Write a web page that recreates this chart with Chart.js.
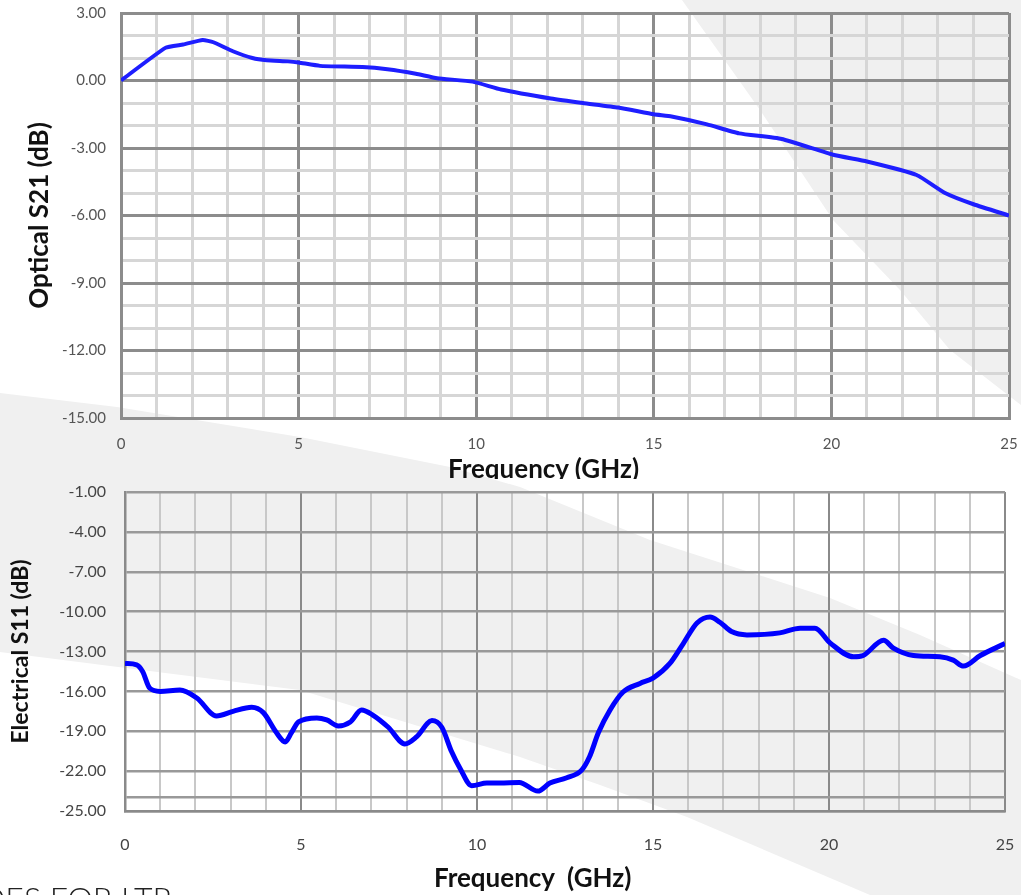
<!DOCTYPE html>
<html><head><meta charset="utf-8">
<script src="https://cdn.jsdelivr.net/npm/chart.js@4.4.1/dist/chart.umd.min.js"></script>
<style>
html,body{margin:0;padding:0;background:#fff;width:1021px;height:895px;overflow:hidden;position:relative;font-family:Lato,sans-serif}
#bg{position:absolute;left:0;top:0}
.box{position:absolute;left:0;width:1021px;overflow:hidden}
#c1box{top:0;height:479px}
#c2box{top:480px;height:415px}
.xt{position:absolute;font-family:Lato,sans-serif;font-weight:bold;font-size:26px;line-height:30px;color:#111;white-space:pre}
#foot{position:absolute;left:-19px;top:882px;font-family:Lato,sans-serif;font-weight:300;font-size:32px;line-height:32px;color:#222;white-space:pre}
canvas{position:absolute;left:0;top:0}
</style></head>
<body>
<svg id="bg" width="1021" height="895">
 <polygon fill="#f0f0f0" points="682,0 760,110 833,220 900,290 950,350 1021,405 1021,0"/>
 <polygon fill="#f0f0f0" points="0,393 117,407 300,437 450,467 520,487 650,540 830,598 920,635 1021,680 1021,895 870,895 687,817 600,785 520,757 300,690 0,652"/>
</svg>
<div class="box" id="c1box"><canvas id="c1" width="1021" height="479"></canvas>
<div class="xt" style="left:448px;top:453px">Frequency (GHz)</div></div>
<div class="box" id="c2box"><canvas id="c2" width="1021" height="415"></canvas></div>
<div class="xt" style="left:434px;top:862px">Frequency  (GHz)</div>
<div id="foot">DES FOR LTR</div>
<script>
// ---- Optical S21 (top chart) ----
const topFreq = [0, 1.25, 1.75, 2.3, 2.6, 3.15, 3.7, 4.1, 4.7, 5.0, 5.6, 6.8, 7.5, 8.3, 8.9, 9.9, 10.7, 12.1, 13.0, 14.0, 15.0, 15.5, 16.5, 17.4, 18.6, 20.05, 21.0, 22.4, 23.2, 24.0, 25.0];
const topVals = [0, 1.45, 1.6, 1.8, 1.7, 1.3, 1.0, 0.9, 0.85, 0.8, 0.65, 0.6, 0.5, 0.3, 0.1, -0.05, -0.4, -0.8, -1.0, -1.2, -1.5, -1.6, -1.95, -2.35, -2.6, -3.3, -3.6, -4.2, -5.0, -5.5, -6.0];
const topXTicks = [0,1,2,3,4,5,6,7,8,9,10,11,12,13,14,15,16,17,18,19,20,21,22,23,24,25];
const topXLabels = ['0','5','10','15','20','25'];
const topYTicks = [-15,-14,-13,-12,-11,-10,-9,-8,-7,-6,-5,-4,-3,-2,-1,0,1,2,3];
const topYLabels = ['-15.00','-12.00','-9.00','-6.00','-3.00','0.00','3.00'];

// ---- Electrical S11 (bottom chart) ----
const botFreq = [0, 0.33, 0.5, 0.7, 1.0, 1.56, 2.04, 2.6, 3.07, 3.6, 3.93, 4.3, 4.55, 4.73, 4.93, 5.45, 5.73, 6.06, 6.4, 6.72, 7.05, 7.48, 7.95, 8.29, 8.72, 9.0, 9.28, 9.52, 9.85, 10.28, 10.65, 11.2, 11.73, 12.07, 12.55, 12.98, 13.2, 13.45, 13.78, 14.15, 14.63, 15.0, 15.48, 15.86, 16.25, 16.62, 16.9, 17.23, 17.67, 18.6, 19.18, 19.6, 20.03, 20.7, 20.97, 21.55, 21.83, 22.4, 23.15, 23.53, 23.82, 24.3, 25.0];
const botVals = [-13.9, -14.0, -14.5, -15.75, -16.0, -15.9, -16.5, -17.85, -17.5, -17.2, -17.6, -19.1, -19.8, -19.1, -18.3, -18.0, -18.15, -18.6, -18.3, -17.4, -17.8, -18.7, -19.95, -19.4, -18.2, -18.7, -20.55, -21.8, -23.1, -22.9, -22.9, -22.85, -23.5, -22.9, -22.5, -21.9, -20.9, -19.1, -17.4, -16.05, -15.4, -15.0, -13.9, -12.4, -10.85, -10.4, -10.8, -11.5, -11.75, -11.6, -11.25, -11.25, -12.35, -13.4, -13.3, -12.15, -12.75, -13.3, -13.4, -13.65, -14.1, -13.3, -12.4];
const botXTicks = [0,1,2,3,4,5,6,7,8,9,10,11,12,13,14,15,16,17,18,19,20,21,22,23,24,25];
const botXLabels = ['0','5','10','15','20','25'];
const botYTicks = [-25,-24,-22,-19,-16,-13,-10,-7,-4,-1];
const botYLabels = ['-25.00','-22.00','-19.00','-16.00','-13.00','-10.00','-7.00','-4.00','-1.00'];

const fmtLabel = (labels, dec) => v => { const s = dec ? v.toFixed(2) : String(v); return labels.includes(s) ? s : ''; };
const noPad = s => { s.paddingLeft = 0; s.paddingRight = 0; s.paddingTop = 0; s.paddingBottom = 0; };

new Chart(document.getElementById('c1'), {
  type: 'line',
  data: { datasets: [{ data: topFreq.map((f,i)=>({x:f, y:topVals[i]})), borderColor:'#1e1eff', borderWidth:4, pointRadius:0, tension:0.15, fill:false }] },
  options: {
    responsive:false, animation:false, devicePixelRatio:1,
    layout:{ padding:{ top:13, right:12, left:0, bottom:0 } },
    plugins:{ legend:{display:false}, tooltip:{enabled:false} },
    scales:{
      x:{ type:'linear', min:0, max:25,
        afterFit: s => { s.height = 61; noPad(s); },
        afterBuildTicks: s => { s.ticks = topXTicks.map(v=>({value:v})); },
        ticks:{ autoSkip:false, maxRotation:0, padding:17, color:'#555', font:{family:'Lato', size:15}, callback: fmtLabel(topXLabels, false) },
        grid:{ drawTicks:false, lineWidth:3, color: c => (c.tick && c.tick.value % 5 === 0) ? '#8c8c8c' : '#d6d6d6' },
        border:{ color:'#8c8c8c', width:3 } },
      y:{ type:'linear', min:-15, max:3,
        afterFit: s => { s.width = 121; noPad(s); },
        afterBuildTicks: s => { s.ticks = topYTicks.map(v=>({value:v})); },
        ticks:{ autoSkip:false, padding:15, color:'#555', font:{family:'Lato', size:15}, callback: fmtLabel(topYLabels, true) },
        grid:{ drawTicks:false, lineWidth:3, color: c => (c.tick && c.tick.value % 3 === 0) ? '#8c8c8c' : '#d6d6d6' },
        border:{ color:'#8c8c8c', width:3 },
        title:{ display:true, text:'Optical S21 (dB)', color:'#111', font:{family:'Lato', size:26, weight:'bold'}, padding:{top:24, bottom:0} } }
    }
  }
});

new Chart(document.getElementById('c2'), {
  type: 'line',
  data: { datasets: [{ data: botFreq.map((f,i)=>({x:f, y:botVals[i]})), borderColor:'#0000ff', borderWidth:5, pointRadius:0, cubicInterpolationMode:'monotone', fill:false }] },
  options: {
    responsive:false, animation:false, devicePixelRatio:1,
    layout:{ padding:{ top:12, right:16, left:0, bottom:0 } },
    plugins:{ legend:{display:false}, tooltip:{enabled:false} },
    scales:{
      x:{ type:'linear', min:0, max:25,
        afterFit: s => { s.height = 84; noPad(s); },
        afterBuildTicks: s => { s.ticks = botXTicks.map(v=>({value:v})); },
        ticks:{ autoSkip:false, maxRotation:0, padding:24, color:'#444', font:{family:'Lato', size:16}, callback: fmtLabel(botXLabels, false) },
        grid:{ drawTicks:false, lineWidth:2, color: c => (c.tick && c.tick.value % 5 === 0) ? '#8a8a8a' : '#c8c8c8' },
        border:{ color:'#8a8a8a', width:2.5 } },
      y:{ type:'linear', min:-25, max:-1,
        afterFit: s => { s.width = 125; noPad(s); },
        afterBuildTicks: s => { s.ticks = botYTicks.map(v=>({value:v})); },
        ticks:{ autoSkip:false, padding:19, color:'#444', font:{family:'Lato', size:16}, callback: fmtLabel(botYLabels, true) },
        grid:{ drawTicks:false, lineWidth:2.5, color:'#999' },
        border:{ color:'#8a8a8a', width:2.5 },
        title:{ display:true, text:'Electrical S11 (dB)', color:'#111', font:{family:'Lato', size:23, weight:'bold'}, padding:{top:7, bottom:0} } }
    }
  }
});
</script>
</body></html>
